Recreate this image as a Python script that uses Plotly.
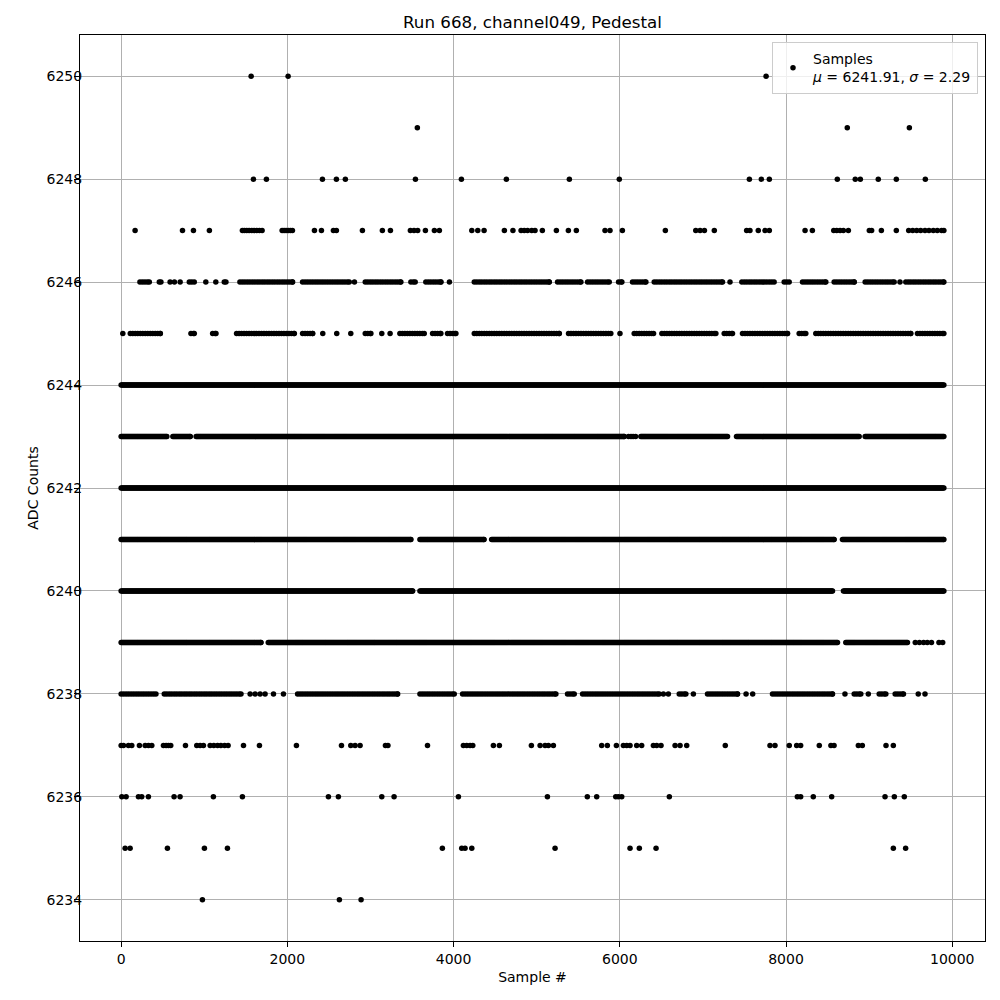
import plotly.graph_objects as go

TITLE = "Run 668, channel049, Pedestal"
X_LABEL = "Sample #"
Y_LABEL = "ADC Counts"
MU = 6241.91
SIGMA = 2.29
LAST_SAMPLE = 9899

X_TICKS = [0, 2000, 4000, 6000, 8000, 10000]
Y_TICKS = [6234, 6236, 6238, 6240, 6242, 6244, 6246, 6248, 6250]

# ---- isolated samples (sample index per ADC level) ----
single_6250 = [1564, 2009, 7760]
single_6249 = [3564, 8737, 9484]
single_6248 = [1592, 1748, 2422, 2590, 2698, 3541, 4094, 4635, 5393, 5994,
               7559, 7703, 7799, 8617, 8833, 8894, 9110, 9327, 9676]
single_6247 = [168, 738, 870, 1062, 1459, 1484, 1512, 1540, 1572, 1600, 1632,
               1664, 1696, 1937, 1961, 1985, 2013, 2037, 2061, 2326, 2410,
               2554, 2590, 2903, 3143, 3240, 3480, 3524, 3568, 3661, 3769,
               3829, 4219, 4291, 4367, 4611, 4714, 4812, 4850, 4890, 4940,
               4980, 5068, 5237, 5381, 5477, 5822, 5882, 6031, 6548, 6914,
               6966, 7018, 7137, 7526, 7566, 7666, 7747, 7799, 8229, 8317,
               8574, 8610, 8650, 8690, 8750, 9002, 9030, 9147, 9327, 9476,
               9524, 9572, 9620, 9672, 9720, 9772, 9820, 9872, 9899]
single_6246 = [589, 641, 710, 1019, 1139, 2807, 3950, 7326, 9371]
single_6245 = [20, 2426, 2594, 2763, 3136, 3236, 6002]
single_6243 = [6105, 6135, 6160, 6190]
single_6239 = [9555, 9605, 9655, 9700, 9750, 9840, 9885]
single_6238 = [1552, 1612, 1672, 1732, 1833, 1953, 6524, 6584, 6885, 7519,
               7599, 8709, 8990, 9591, 9672]
single_6237 = [0, 28, 88, 128, 220, 289, 329, 369, 509, 541, 569, 597, 774,
               910, 950, 990, 1071, 1115, 1160, 1200, 1245, 1287, 1472, 1664,
               2109, 2651, 2763, 2815, 2875, 3180, 3210, 3686, 4118, 4158,
               4198, 4231, 4479, 4551, 4936, 5041, 5101, 5141, 5201, 5782,
               5850, 5959, 6043, 6083, 6123, 6203, 6263, 6404, 6444, 6496,
               6665, 6725, 6805, 7269, 7807, 7867, 8039, 8128, 8176, 8400,
               8540, 8578, 8870, 8918, 9203, 9291]
single_6236 = [8, 60, 208, 248, 328, 637, 709, 1110, 1459, 2494, 2614, 3136,
               3284, 4058, 5129, 5609, 5722, 5951, 5983, 6023, 6596, 8136,
               8176, 8328, 8549, 9191, 9303, 9423]
single_6235 = [48, 108, 557, 1002, 1279, 3865, 4098, 4138, 4219, 5221, 6123,
               6235, 6436, 9291, 9439]
single_6234 = [978, 2626, 2887]

# ---- unbroken runs of samples (outer edges as seen) per ADC level ----
runs_6246 = [(196, 369), (429, 509), (790, 910), (1211, 1291), (1399, 2093),
             (2153, 2775), (2907, 3396), (3456, 3568), (3636, 3877),
             (4219, 5181), (5221, 5562), (5582, 5903), (5955, 6055),
             (6123, 6344), (6384, 7266), (7438, 7887), (7948, 8068),
             (8168, 8509), (8549, 8850), (8922, 9331), (9411, 9899)]
runs_6245 = [(80, 501), (810, 910), (1071, 1171), (1359, 2114), (2153, 2334),
             (2907, 3035), (3324, 3677), (3717, 3877), (3897, 4058),
             (4219, 5302), (5353, 5922), (6143, 6436), (6476, 7186),
             (7226, 7386), (7446, 8048), (8128, 8268), (8328, 9531),
             (9551, 9899)]
runs_6244 = [(0, 9899)]
runs_6243 = [(0, 580), (592, 862), (872, 6083), (6223, 7326), (7374, 8910),
             (8922, 9899)]
runs_6242 = [(0, 9899)]
runs_6241 = [(0, 3517), (3565, 4396), (4428, 8609), (8649, 9899)]
runs_6240 = [(0, 3537), (3565, 8589), (8661, 9899)]
runs_6239 = [(0, 1712), (1740, 8649), (8689, 9491)]
runs_6238 = [(0, 449), (489, 1472), (2093, 3357), (3565, 4038), (4078, 5261),
             (5341, 5482), (5522, 6504), (6685, 6825), (7025, 7446),
             (7807, 8589), (8790, 8930), (9091, 9231), (9283, 9443)]

DENSE_LEVELS = [6239, 6240, 6241, 6242, 6243, 6244]

singles = {
    6250: single_6250, 6249: single_6249, 6248: single_6248,
    6247: single_6247, 6246: single_6246, 6245: single_6245,
    6243: single_6243, 6239: single_6239, 6238: single_6238,
    6237: single_6237, 6236: single_6236, 6235: single_6235,
    6234: single_6234,
}
runs = {
    6246: runs_6246, 6245: runs_6245, 6244: runs_6244, 6243: runs_6243,
    6242: runs_6242, 6241: runs_6241, 6240: runs_6240, 6239: runs_6239,
    6238: runs_6238,
}

EDGE = 30  # half a marker, in samples


def expand(a, b, step):
    a2, b2 = a + EDGE, b - EDGE
    if a == 0:
        a2 = 0
    if b == LAST_SAMPLE:
        b2 = LAST_SAMPLE
    if a2 >= b2:
        return [(a + b) // 2]
    out = list(range(a2, b2, step))
    out.append(b2)
    return out


xs, ys = [], []
for lvl, lst in singles.items():
    for s in lst:
        xs.append(s)
        ys.append(lvl)
for lvl, lst in runs.items():
    step = 12 if lvl in DENSE_LEVELS else 30
    for a, b in lst:
        for s in expand(a, b, step):
            xs.append(s)
            ys.append(lvl)

FONT = "DejaVu Sans"

fig = go.Figure()
fig.add_trace(go.Scatter(
    x=xs, y=ys, mode="markers",
    marker=dict(color="black", size=5.5, line=dict(width=0)),
    name=f"Samples<br><i>μ</i> = {MU:.2f}, <i>σ</i> = {SIGMA:.2f}",
    showlegend=True,
))

axis_common = dict(
    showline=True, linecolor="black", linewidth=1, mirror=True,
    showgrid=True, gridcolor="#b0b0b0", gridwidth=1,
    ticks="outside", ticklen=5, tickwidth=1, tickcolor="black",
    zeroline=False,
    tickfont=dict(family=FONT, size=14, color="black"),
)

# page body has an 8px margin, so the figure is 992 px and margins are offset
W = 992
fig.update_layout(
    width=W, height=W,
    margin=dict(l=72, r=15, t=27, b=59),
    paper_bgcolor="white", plot_bgcolor="white",
    font=dict(family=FONT, size=14, color="black"),
    title=dict(text=TITLE, x=(72 + 977) / 2 / W, xanchor="center",
               yref="container", y=1 - 20 / W, yanchor="bottom",
               font=dict(family=FONT, size=16.7, color="black")),
    xaxis=dict(range=[-495, 10394], tickvals=X_TICKS,
               ticktext=[str(v) for v in X_TICKS],
               title=dict(text=X_LABEL, standoff=6,
                          font=dict(family=FONT, size=14)),
               **axis_common),
    yaxis=dict(range=[6233.2, 6250.8], tickvals=Y_TICKS,
               ticktext=[str(v) for v in Y_TICKS],
               ticklabelstandoff=-11,
               title=dict(text=Y_LABEL, standoff=4,
                          font=dict(family=FONT, size=14)),
               **axis_common),
    legend=dict(x=(970 - 72) / 905, xanchor="right",
                y=1 - 7 / 906, yanchor="top",
                bgcolor="rgba(255,255,255,0.8)", bordercolor="#cccccc",
                borderwidth=1, font=dict(family=FONT, size=14),
                valign="middle"),
)

fig.write_html("out.html", config={"displayModeBar": False})
